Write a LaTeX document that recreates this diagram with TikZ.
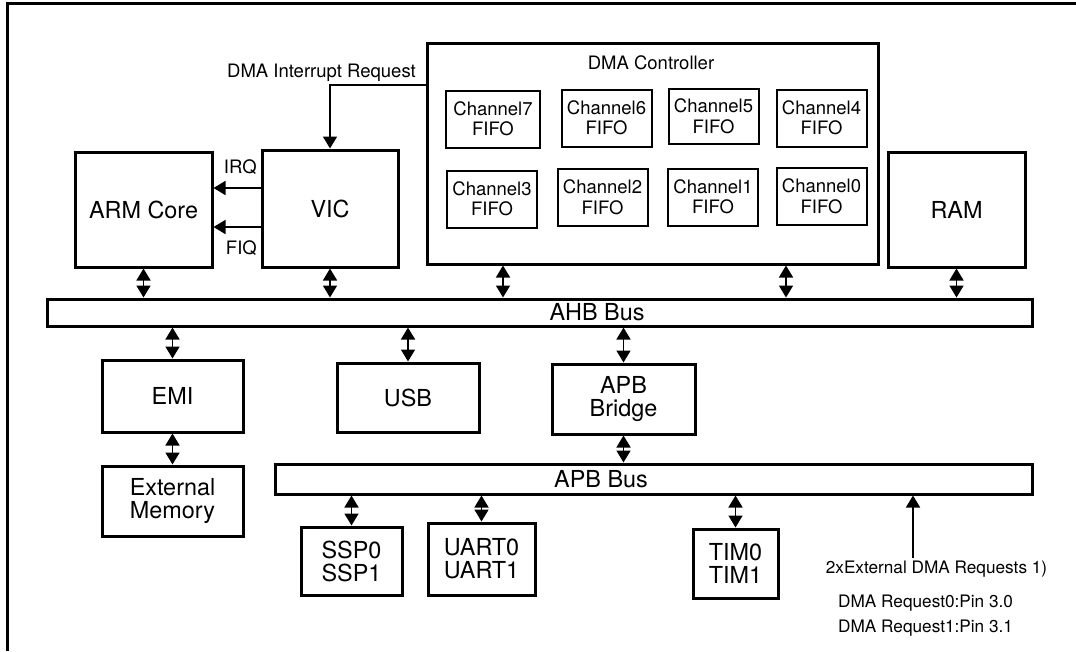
\documentclass[tikz,border=0pt]{standalone}
\usepackage{fontspec}
\setmainfont{TeX Gyre Heros}
\usetikzlibrary{arrows.meta,calc}
\begin{document}
\begin{tikzpicture}[x=1pt,y=-1pt,
  blk/.style={draw, line width=3pt, inner sep=0pt, align=center,
    font=\fontsize{23.4}{23}\selectfont},
  bus/.style={draw, line width=3pt, inner sep=0pt},
  buslbl/.style={inner sep=0pt, font=\fontsize{23.4}{23}\selectfont},
  fifo/.style={draw, line width=2pt, inner sep=0pt, align=center,
    minimum width=90pt, minimum height=57pt,
    font=\fontsize{18.5}{20.5}\selectfont},
  lbl/.style={inner sep=0pt, font=\fontsize{18.5}{21}\selectfont},
  note/.style={inner sep=0pt, font=\fontsize{17.2}{20}\selectfont},
  tip/.tip={Triangle[width=14pt,length=12pt]},
  bidir/.style={line width=1.6pt, tip-tip},
  uni/.style={line width=1.6pt, -tip},
]
\useasboundingbox (0,0) rectangle (1076,651);

% page frame
\draw[line width=3pt] (7.5,651) -- (7.5,3.5) -- (1076,3.5);

% upper row of blocks
\node[blk, minimum width=137pt, minimum height=115pt] (arm) at (143.5,209.5) {ARM Core};
\node[blk, minimum width=136pt, minimum height=117pt] (vic) at (330,208.5) {VIC};
\node[blk, minimum width=137pt, minimum height=115pt] (ram) at (956.5,209.5) {RAM};
\node[blk, minimum width=451pt, minimum height=221pt] (dma) at (652.5,153.5) {};
\node[lbl] (dmat) at (651,63) {DMA Controller};

% channel FIFOs
\node[fifo, minimum width=94pt] (ch7) at (493,119) {Channel7\\FIFO};
\node[fifo] (ch6) at (606.5,118) {Channel6\\FIFO};
\node[fifo, minimum height=55pt] (ch5) at (713.5,116.5) {Channel5\\FIFO};
\node[fifo] (ch4) at (821.5,118) {Channel4\\FIFO};
\node[fifo] (ch3) at (492,199) {Channel3\\FIFO};
\node[fifo] (ch2) at (602.5,197.5) {Channel2\\FIFO};
\node[fifo] (ch1) at (713,197) {Channel1\\FIFO};
\node[fifo] (ch0) at (821.5,196.5) {Channel0\\FIFO};

% AHB bus
\node[bus, minimum width=985pt, minimum height=27pt] (ahb) at (539.5,312.5) {};
\node[buslbl] (ahbt) at (597,312.5) {AHB Bus};

% AHB peripherals
\node[blk, minimum width=141pt, minimum height=72pt] (emi) at (172.5,396) {EMI};
\node[blk, minimum width=142pt, minimum height=69pt] (usb) at (408,397.5) {USB};
\node[blk, minimum width=143pt, minimum height=70pt] (bridge) at (623.5,399) {APB\\Bridge};
\node[blk, minimum width=141pt, minimum height=70pt] (extmem) at (172.5,501) {External\\Memory};

% APB bus
\node[bus, minimum width=757pt, minimum height=30pt] (apb) at (653.5,479) {};
\node[buslbl] (apbt) at (601,479) {APB Bus};

% APB peripherals
\node[blk, minimum width=101pt, minimum height=68pt] (ssp) at (351.5,561) {SSP0\\SSP1};
\node[blk, minimum width=107pt, minimum height=72pt] (uart) at (481.5,559) {UART0\\UART1};
\node[blk, minimum width=85pt, minimum height=69pt] (tim) at (735.5,563.5) {TIM0\\TIM1};

% bus connections
\coordinate (dmaL) at ([xshift=-149.5pt]dma.south);
\coordinate (dmaR) at ([xshift=133.5pt]dma.south);
\draw[bidir] (arm.south) -- (arm.south |- ahb.north);
\draw[bidir] (vic.south) -- (vic.south |- ahb.north);
\draw[bidir] (dmaL) -- (dmaL |- ahb.north);
\draw[bidir] (dmaR) -- (dmaR |- ahb.north);
\draw[bidir] (ram.south) -- (ram.south |- ahb.north);
\draw[bidir] (ahb.south -| emi.north) -- (emi.north);
\draw[bidir] (ahb.south -| usb.north) -- (usb.north);
\draw[bidir] (ahb.south -| bridge.north) -- (bridge.north);
\draw[bidir] (emi.south) -- (extmem.north);
\draw[bidir] (bridge.south) -- (bridge.south |- apb.north);
\draw[bidir] (apb.south -| ssp.north) -- (ssp.north);
\draw[bidir] (apb.south -| uart.north) -- (uart.north);
\draw[bidir] (apb.south -| tim.north) -- (tim.north);

% interrupt lines
\coordinate (irq) at (0,188);
\coordinate (fiq) at (0,227);
\coordinate (intr) at (0,85);
\draw[uni] (vic.west |- irq) -- (arm.east |- irq);
\draw[uni] (vic.west |- fiq) -- (arm.east |- fiq);
\node[lbl, anchor=east] (irqt) at (257,167) {IRQ};
\node[lbl, anchor=east] (fiqt) at (257,248) {FIQ};
\draw[uni] (dma.west |- intr) -| (vic.north);
\node[lbl, anchor=base east] (intrt) at (416,77) {DMA Interrupt Request};

% external DMA requests
\coordinate (extreq) at (913,558);
\draw[uni] (extreq) -- (extreq |- apb.south);
\node[note] (extt) at (936.5,569) {2xExternal DMA Requests 1)};
\node[note, anchor=west] (req0) at (838,603) {DMA Request0:Pin 3.0};
\node[note, anchor=west] (req1) at (838,628) {DMA Request1:Pin 3.1};
\end{tikzpicture}
\end{document}
